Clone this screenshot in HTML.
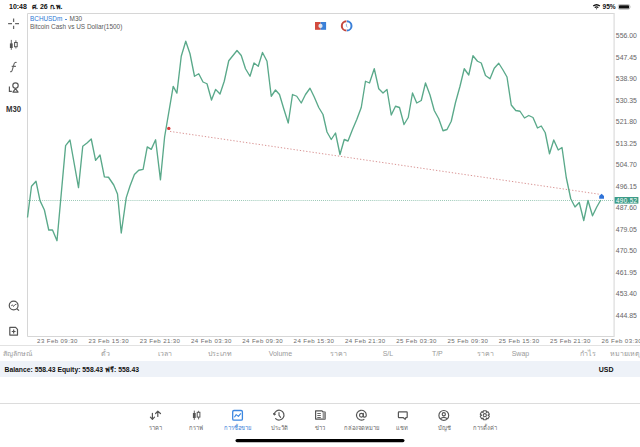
<!DOCTYPE html>
<html><head><meta charset="utf-8">
<style>
html,body{margin:0;padding:0;background:#fff;width:640px;height:447px;overflow:hidden;position:relative;font-family:"Liberation Sans",sans-serif;}
.a{position:absolute;white-space:nowrap;}
.pl{position:absolute;left:615.8px;font-size:6.9px;line-height:8px;color:#666;letter-spacing:0px;white-space:nowrap;}
.xl{position:absolute;top:336.8px;font-size:6.1px;line-height:8px;color:#6c6c6c;letter-spacing:0.4px;white-space:nowrap;}
.th{position:absolute;top:349px;font-size:7px;line-height:9px;color:#999;white-space:nowrap;}
.tl{position:absolute;top:425.3px;font-size:5.8px;line-height:7px;color:#666;text-align:center;width:40px;white-space:nowrap;}
</style></head><body>
<div class="a" style="left:9px;top:1.5px;font-size:7px;line-height:9px;font-weight:bold;color:#111;">10:48</div>
<div class="a" style="left:32px;top:1.5px;font-size:7px;line-height:9px;font-weight:bold;color:#111;">ศ. 26 ก.พ.</div>
<div class="a" style="left:602.5px;top:2px;font-size:6.6px;line-height:9px;font-weight:bold;color:#111;">95%</div>

<svg class="a" style="left:0;top:0" width="640" height="447" viewBox="0 0 640 447">
  <g fill="#111">
    <path d="M592.8 5.6 A6 6 0 0 1 600.3 5.6 L599.4 6.6 A4.6 4.6 0 0 0 593.7 6.6 Z"/>
    <path d="M594.3 7.2 A3.6 3.6 0 0 1 598.8 7.2 L597.9 8.1 A2.3 2.3 0 0 0 595.2 8.1 Z"/>
    <path d="M595.8 8.7 L596.55 9.4 L597.3 8.7 A1.1 1.1 0 0 0 595.8 8.7 Z"/>
  </g>
  <rect x="618.3" y="4.5" width="11.4" height="4.8" rx="1.3" fill="none" stroke="#999" stroke-width="0.6"/>
  <rect x="619" y="5.2" width="10" height="3.4" rx="0.6" fill="#111"/>
  <path d="M630.4 6.2 v1.4 a0.7 0.7 0 0 0 0 -1.4z" fill="#bbb"/>

  <!-- left toolbar -->
  <g stroke="#666" stroke-width="1.25" fill="none">
    <path d="M13.6 18.5 V21.9 M13.6 25.7 V28.9 M8.1 23.7 H12 M15.1 23.7 H19"/>
  </g>
  <g stroke="#555" fill="none">
    <path d="M11.3 39.9 V49.8 M15.9 40.3 V48.5" stroke-width="0.9"/>
    <rect x="9.9" y="43.4" width="2.8" height="4.6" fill="#555" stroke="none"/>
    <rect x="14.6" y="42.5" width="2.6" height="4.2" fill="#fff" stroke-width="1"/>
  </g>
  <path d="M16.6 62.5 C15.3 62.1 14.4 62.6 13.9 64.3 L12.4 69.6 C12 71.2 11.3 71.9 10.2 71.6 M11.7 66.4 H15.9" stroke="#666" stroke-width="1.1" fill="none"/>
  <g stroke="#555" stroke-width="1.15" fill="none">
    <path d="M9.4 86.5 V91.3 H11.8"/>
    <circle cx="15.5" cy="85.6" r="2.7"/>
    <path d="M15.5 88.7 L12.9 92.1 H18.1 Z" stroke-linejoin="round"/>
  </g>
  <g stroke="#555" stroke-width="1.2" fill="none">
    <circle cx="13.66" cy="305.5" r="4.4"/>
    <path d="M16.9 308.7 L19 310.6"/>
    <path d="M11.2 305.9 L12.4 304.8 L13.5 306.5 L15 304.6 L16.4 304.3" stroke-width="0.9"/>
  </g>
  <g stroke="#555" stroke-width="1.2" fill="none">
    <path d="M9.8 327.4 H15.6 L17.5 329.3 V335.1 H9.8 Z" stroke-linejoin="round"/>
    <path d="M13.66 329.6 V333.4 M11.76 331.5 H15.56"/>
  </g>

  <!-- chart frame -->
  <path d="M27.5 13.5 H614.1 M27.5 13.5 V336.5 H614.1" fill="none" stroke="#d6d6d6" stroke-width="1"/><line x1="614.1" y1="13" x2="614.1" y2="337" stroke="#dcdcdc" stroke-width="1.2"/>
  <!-- top chart icons -->
  <rect x="315" y="22" width="5.6" height="7.8" fill="#d24b3e"/>
  <rect x="320.6" y="22" width="5.5" height="7.8" fill="#3b80d8"/>
  <circle cx="320.5" cy="25.9" r="2.1" fill="#dfe7f2"/>
  <path d="M346.4 21.3 A4.6 4.6 0 0 0 346.4 30.5" stroke="#c4473d" stroke-width="2" fill="none"/>
  <path d="M346.9 21.3 A4.6 4.6 0 0 1 346.9 30.5" stroke="#3b80d8" stroke-width="2" fill="none"/>
  <path d="M346.4 23.8 V26.3 L347.6 27.2" stroke="#6a9ad8" stroke-width="0.7" fill="none"/>

  <line x1="28" y1="200.5" x2="613" y2="200.5" stroke="#4f9f80" stroke-width="0.7" stroke-dasharray="0.8 1.25"/>
  <line x1="170" y1="131.4" x2="600.5" y2="194.4" stroke="#d58888" stroke-width="0.9" stroke-dasharray="1.3 1.9"/>
  <polyline points="27.5,217.5 31.5,186.25 36,181.25 40,200.6 44.4,210 48.75,230 52.5,230 57,240.75 65.6,145.6 70,140 78.5,187.6 82.75,146.25 87,143 91.25,139 95.6,160.4 100,155 104.4,176.9 108.5,177.25 113.75,185 117.5,194 121.25,233 126.25,197.6 130,186 134.4,174.4 138.75,170.25 143.1,169.4 147.25,146.9 151.25,149.4 155.6,139.75 160.45,179.8 164.6,137 173.2,86.4 176.9,93.1 181.25,56.25 185.75,41.25 190,53.75 194.5,76.25 198.75,73.75 203,82 207,83.75 211.5,100 215.6,89.4 220,94 224.25,81.25 228.75,60.75 233,55.5 237,50.5 241.25,55.5 245.5,68.75 250,76.25 254,63 258.25,66.25 262.5,52.5 267,61.25 271.25,96.25 275.5,90 279.5,94.5 283.75,108.75 288.25,123 292.5,94.5 296.75,96.25 301.25,103 305.5,94.5 310,88.25 314.25,97 318.75,107.5 323,114.5 327,132 331.25,139.5 335.5,133 340,154.5 344.25,139.5 348,141 352.5,129.5 356.75,119.5 361.25,107.5 365.5,81.25 369.5,83 374.25,68.75 378.75,88.75 383,93 387,89.5 391.25,115 395.5,106.25 399.5,107.5 404,124.5 408.25,117.5 412.5,93 416.75,103 421.25,100.5 425.5,83 430,95 434.25,110.5 438.75,118.75 443,130.75 447,129.5 451.25,121.25 455.5,102.5 460,86.25 464.25,68.75 468.75,75 473,55.75 477.5,61.25 481.25,63 485.5,75.5 490,78.75 494.25,68.25 498.75,63.25 503,70 507,77 511.25,105 515.75,110.5 520,111.25 524.5,118 528.75,115.5 533,117.5 537.5,128 541.25,126 545.25,132.75 549.5,153.75 553.75,140 558.25,150 562,147.5 566.25,177.5 570.75,198.75 575,207 579.25,202.5 583.75,220.5 588,200.5 592.5,215.75 596.75,207 600.75,200" fill="none" stroke="#5aa98a" stroke-width="1.35" stroke-linejoin="round"/>
  <circle cx="168.8" cy="128.4" r="1.7" fill="#d83a3a"/>
  <path d="M601.6 193.7 L604 195.9 V198.8 H599.2 V195.9 Z" fill="#2f73d8"/>
  <rect x="614.6" y="197" width="23.8" height="6.6" fill="#3d9c88"/>

  <line x1="0" y1="345.5" x2="640" y2="345.5" stroke="#e2e2e2" stroke-width="1"/>
  <rect x="0" y="361" width="640" height="16" fill="#eef2f8"/>
  <line x1="0" y1="403.5" x2="640" y2="403.5" stroke="#dcdcdc" stroke-width="1"/>
  <rect x="235.5" y="439" width="169" height="3.2" rx="1.6" fill="#000"/>

  <!-- tab icons -->
  <g stroke="#555" stroke-width="1.2" fill="none" stroke-linecap="round" stroke-linejoin="round">
    <path d="M152.4 413.3 V419 M150.4 417.2 L152.4 419.4 L154.5 417.2"/>
    <path d="M157.8 416.5 V411.6 M155.6 413.5 L157.8 411.2 L160.5 413.5"/>
  </g>
  <g stroke="#555" fill="none">
    <path d="M194.3 410.6 V419.9 M198.6 410.8 V419.4" stroke-width="0.9"/>
    <rect x="192.9" y="413" width="2.8" height="5" fill="#555" stroke="none"/>
    <rect x="197.2" y="412.3" width="2.7" height="4.8" fill="#fff" stroke-width="1"/>
  </g>
  <g stroke="#3c87e0" stroke-width="1.3" fill="none" stroke-linejoin="round">
    <rect x="232.7" y="410.5" width="9.7" height="9.7" rx="1.3"/>
    <path d="M234.4 417.3 L236.2 414.6 L238.4 416.4 L240.9 413.3" stroke-width="1.1"/>
  </g>
  <g stroke="#555" stroke-width="1.2" fill="none" stroke-linecap="round">
    <path d="M274.2 414.6 A4.9 4.9 0 1 1 275.6 418.6"/>
    <path d="M273.6 413.4 L274.2 415 L275.6 414.2" stroke-width="1"/>
    <path d="M279 412.6 V415.4 L280.6 417.4" stroke-width="1.1"/>
  </g>
  <g stroke="#555" stroke-width="1.2" fill="none" stroke-linejoin="round">
    <path d="M315.6 410.8 H322 L323.2 412 H325.1 V419.1 H315.6 Z"/>
    <rect x="322.6" y="412.1" width="2.5" height="7" fill="#999" stroke="none"/>
    <path d="M317.3 413.5 H320.8 M317.3 415.5 H320.8 M317.3 417.5 H320.8" stroke-width="0.9"/>
  </g>
  <g stroke="#555" stroke-width="1.15" fill="none" stroke-linecap="round">
    <circle cx="361.4" cy="415.2" r="1.9"/>
    <path d="M363.3 413.3 V416.2 C363.3 417.6 366.3 417.6 366.3 415.2 A4.9 4.9 0 1 0 363.9 419.4"/>
  </g>
  <g stroke="#555" stroke-width="1.2" fill="none" stroke-linejoin="round">
    <path d="M398.4 412.4 Q398.4 411.8 399 411.8 H406.6 Q407.2 411.8 407.2 412.4 V417.1 Q407.2 417.7 406.6 417.7 H405.8 L405.2 419.4 L403.4 417.7 H399 Q398.4 417.7 398.4 417.1 Z"/>
  </g>
  <g stroke="#555" stroke-width="1.15" fill="none">
    <circle cx="443.8" cy="415.4" r="4.9"/>
    <circle cx="443.8" cy="414.2" r="1.6"/>
    <path d="M440.3 418.8 Q443.8 415.9 447.3 418.8"/>
  </g>
  <g stroke="#555" stroke-width="1.1" fill="none" stroke-linejoin="round">
    <path d="M483.41 410.71 L486.19 410.71 L486.78 412.43 L486.21 412.11 L487.99 411.75 L489.38 414.16 L488.18 415.53 L488.18 414.87 L489.38 416.24 L487.99 418.65 L486.21 418.29 L486.78 417.97 L486.19 419.69 L483.41 419.69 L482.82 417.97 L483.39 418.29 L481.61 418.65 L480.22 416.24 L481.42 414.87 L481.42 415.53 L480.22 414.16 L481.61 411.75 L483.39 412.11 L482.82 412.43Z"/>
    <circle cx="484.8" cy="415.2" r="1.6"/>
  </g>
</svg>

<div class="a" style="left:616px;top:196.5px;width:23px;font-size:6.3px;line-height:8px;color:#fff;letter-spacing:0.35px;">490.52</div>
<div class="pl" style="top:32.10px">556.00</div>
<div class="pl" style="top:53.60px">547.45</div>
<div class="pl" style="top:75.10px">538.90</div>
<div class="pl" style="top:96.60px">530.35</div>
<div class="pl" style="top:118.10px">521.80</div>
<div class="pl" style="top:139.60px">513.25</div>
<div class="pl" style="top:161.10px">504.70</div>
<div class="pl" style="top:182.60px">496.15</div>
<div class="pl" style="top:204.10px">487.60</div>
<div class="pl" style="top:225.60px">479.05</div>
<div class="pl" style="top:247.10px">470.50</div>
<div class="pl" style="top:268.60px">461.95</div>
<div class="pl" style="top:290.10px">453.40</div>
<div class="pl" style="top:311.60px">444.85</div>

<div class="xl" style="left:37.1px">23 Feb 09:30</div>
<div class="xl" style="left:88.4px">23 Feb 15:30</div>
<div class="xl" style="left:139.7px">23 Feb 21:30</div>
<div class="xl" style="left:191.0px">24 Feb 03:30</div>
<div class="xl" style="left:242.3px">24 Feb 09:30</div>
<div class="xl" style="left:293.6px">24 Feb 15:30</div>
<div class="xl" style="left:344.9px">24 Feb 21:30</div>
<div class="xl" style="left:396.2px">25 Feb 03:30</div>
<div class="xl" style="left:447.5px">25 Feb 09:30</div>
<div class="xl" style="left:498.8px">25 Feb 15:30</div>
<div class="xl" style="left:550.1px">25 Feb 21:30</div>
<div class="xl" style="left:601.4px">26 Feb 03:30</div>


<div class="a" style="left:30px;top:15px;font-size:6.4px;line-height:8px;color:#2d78d4;">BCHUSDm</div>
<div class="a" style="left:65.2px;top:18.6px;width:1.5px;height:1.5px;border-radius:0.4px;background:#2d78d4;"></div>
<div class="a" style="left:69.6px;top:15px;font-size:6.45px;line-height:8px;color:#555;">M30</div>
<div class="a" style="left:30px;top:22.8px;font-size:6.45px;line-height:8px;color:#5a5a5a;">Bitcoin Cash vs US Dollar(1500)</div>

<div class="a" style="left:6px;top:103.6px;font-size:9px;line-height:11px;font-weight:bold;color:#333;transform:scaleX(0.86);transform-origin:0 0;">M30</div>

<div class="th" style="left:3px">สัญลักษณ์</div>
<div class="th" style="left:101px">ตั๋ว</div>
<div class="th" style="left:158px">เวลา</div>
<div class="th" style="left:208px">ประเภท</div>
<div class="th" style="left:268.7px">Volume</div>
<div class="th" style="left:330px">ราคา</div>
<div class="th" style="left:382.7px">S/L</div>
<div class="th" style="left:431.9px">T/P</div>
<div class="th" style="left:477px">ราคา</div>
<div class="th" style="left:511.7px">Swap</div>
<div class="th" style="left:580px">กำไร</div>
<div class="th" style="left:610px">หมายเหตุ</div>

<div class="a" style="left:4.5px;top:364.7px;font-size:6.8px;line-height:9px;font-weight:bold;color:#111;">Balance: 558.43 Equity: 558.43 ฟรี: 558.43</div>
<div class="a" style="left:598.7px;top:364.5px;font-size:7px;line-height:9px;font-weight:bold;color:#111;">USD</div>

<div class="tl" style="left:135px">ราคา</div>
<div class="tl" style="left:176px">กราฟ</div>
<div class="tl" style="left:217px;color:#3b82d8">การซื้อขาย</div>
<div class="tl" style="left:259px">ประวัติ</div>
<div class="tl" style="left:300px">ข่าว</div>
<div class="tl" style="left:341px">กล่องจดหมาย</div>
<div class="tl" style="left:382px">แชท</div>
<div class="tl" style="left:424px">บัญชี</div>
<div class="tl" style="left:465px">การตั้งค่า</div>
</body></html>
